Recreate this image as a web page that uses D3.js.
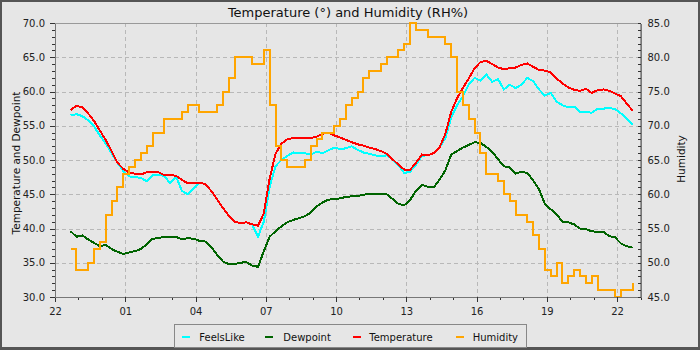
<!DOCTYPE html>
<html>
<head>
<meta charset="utf-8">
<script src="https://cdn.jsdelivr.net/npm/d3@7"></script>
<style>
  html, body { margin: 0; padding: 0; background: #e6e6e6; }
  svg { display: block; font-family: "DejaVu Sans", sans-serif; }
</style>
</head>
<body>
<svg id="chart" width="700" height="350"></svg>
<script>
// Readings every 15 minutes, starting 22:40.
const seriesNames  = ["FeelsLike", "Dewpoint", "Temperature", "Humidity"];
const seriesColors = ["#00ffff", "#006400", "#ff0000", "#ffa500"];

const feelsLike = [
  56.5, 56.7, 56.4, 55.8, 54.9, 53.6, 52.4, 51.0, 49.6, 48.4,
  47.6, 47.5, 47.4, 46.9, 47.8, 47.8, 47.7, 46.6, 47.6, 45.5,
  45.0, 45.9, 46.7, 46.5, 45.5, 44.3, 43.0, 41.9, 41.0, 40.8,
  40.9, 40.6, 38.8, 41.0, 46.1, 49.1, 50.0, 50.6, 51.1, 51.0,
  51.0, 50.8, 51.2, 51.0, 51.4, 51.8, 51.6, 51.7, 52.0, 51.5,
  51.1, 50.9, 50.7, 50.5, 50.7, 50.1, 49.2, 48.1, 48.3, 49.3,
  50.6, 50.7, 51.0, 51.8, 53.2, 56.2, 58.0, 59.3, 61.0, 62.0,
  61.6, 62.5, 61.4, 61.8, 60.3, 61.0, 60.5, 61.0, 62.0, 61.5,
  60.3, 59.4, 59.8, 58.5, 58.0, 57.7, 57.8, 57.0, 57.0, 56.9,
  57.5, 57.5, 57.6, 57.4, 56.8, 56.0, 55.1
];

const dewpoint = [
  39.6, 38.8, 39.0, 38.4, 37.9, 37.4, 37.6, 37.0, 36.6, 36.3,
  36.5, 36.7, 37.0, 37.7, 38.5, 38.6, 38.8, 38.8, 38.8, 38.4,
  38.6, 38.5, 38.2, 38.1, 37.3, 36.2, 35.2, 34.8, 34.8, 35.0,
  35.1, 34.6, 34.4, 36.7, 38.8, 39.6, 40.3, 40.9, 41.25, 41.5,
  41.8, 42.3, 43.2, 43.8, 44.2, 44.3, 44.4, 44.6, 44.7, 44.75,
  44.9, 45.1, 45.1, 45.1, 45.0, 44.3, 43.6, 43.4, 44.2, 45.5,
  46.4, 46.1, 46.0, 47.1, 48.5, 50.8, 51.3, 51.8, 52.2, 52.6,
  52.5, 51.9, 51.2, 50.1, 49.1, 48.9, 48.0, 48.3, 48.1, 47.0,
  45.7, 43.6, 42.8, 42.1, 41.0, 40.9, 40.6, 40.0, 39.9, 39.6,
  39.5, 39.5, 38.9, 38.7, 37.8, 37.4, 37.2
];

const temperature = [
  57.3, 57.9, 57.7, 56.8, 55.7, 54.3, 52.9, 51.3, 49.6, 48.7,
  48.2, 48.0, 47.9, 48.2, 48.3, 48.2, 47.8, 47.8, 47.7, 47.1,
  46.6, 46.7, 46.7, 46.5, 45.5, 44.3, 43.0, 41.9, 41.0, 40.8,
  40.9, 40.6, 40.4, 42.2, 47.3, 50.9, 52.4, 53.0, 53.2, 53.2,
  53.2, 53.2, 53.4, 53.8, 54.0, 53.6, 53.3, 52.95, 52.6, 52.3,
  52.1, 51.8, 51.6, 51.3, 50.9, 50.1, 49.3, 48.6, 48.6, 49.6,
  50.8, 50.7, 51.0, 51.8, 53.8, 57.0, 59.0, 60.5, 61.9, 63.4,
  64.3, 64.5, 64.0, 63.5, 63.25, 63.4, 63.5, 63.9, 64.1, 63.6,
  63.15, 63.05, 62.8, 61.9, 61.2, 60.6, 60.25, 60.1, 60.4, 59.8,
  60.2, 60.3, 60.1, 59.7, 59.3, 58.2, 57.2
];

const humidity = [
  52, 49, 49, 50, 52, 53, 57, 59, 61, 63,
  64, 65, 66, 67, 69, 69, 71, 71, 71, 72,
  73, 73, 72, 72, 72, 73, 75, 77, 80, 80,
  80, 79, 79, 81, 73, 67, 65, 64, 64, 64,
  65, 67, 68, 69, 69, 70, 71, 73, 74, 75,
  77, 78, 78, 79, 80, 80, 81, 82, 85, 84,
  84, 83, 83, 83, 82, 80, 75, 73, 71, 69,
  66, 63, 63, 62, 60, 59, 57, 57, 56, 54,
  52, 49, 48, 50, 47, 48, 49, 48, 47, 48,
  46, 46, 46, 45, 46, 46, 47
];

const leftTicks  = [30, 35, 40, 45, 50, 55, 60, 65, 70];
const rightTicks = [45, 50, 55, 60, 65, 70, 75, 80, 85];
const hourLabelStep = 3;

const axisStart = new Date(2024, 0, 1, 22, 0);
const axisEnd   = new Date(2024, 0, 2, 23, 0);
const firstReading = new Date(2024, 0, 1, 22, 40);
const readingMinutes = 15;

const times = temperature.map((_, i) => d3.timeMinute.offset(firstReading, i * readingMinutes));

const svg = d3.select("#chart");
const W = 700, H = 350;
const plot = { left: 55, right: 640.5, top: 23, bottom: 297 };

// frame and background
svg.append("rect").attr("width", W).attr("height", H).attr("fill", "#555");
svg.append("rect").attr("x", 2).attr("y", 2).attr("width", W - 4).attr("height", H - 5).attr("fill", "#e6e6e6");

const x = d3.scaleTime().domain([axisStart, axisEnd]).range([plot.left, plot.right]);
const yL = d3.scaleLinear().domain([30, 70]).range([plot.bottom, plot.top]);
const yR = d3.scaleLinear().domain([45, 85]).range([plot.bottom, plot.top]);

const allHours = d3.timeHour.range(axisStart, d3.timeMinute.offset(axisEnd, 1));
const majorHours = allHours.filter((d, i) => i % hourLabelStep === 0);

// gridlines
const grid = svg.append("g").attr("stroke", "#b8b8b8").attr("stroke-width", 1)
  .attr("stroke-dasharray", "4,3").attr("shape-rendering", "crispEdges");
grid.selectAll("line.v").data(majorHours.filter(d => x(d) > plot.left + 1 && x(d) < plot.right - 1)).join("line")
  .attr("x1", d => Math.round(x(d)) + 0.5).attr("x2", d => Math.round(x(d)) + 0.5)
  .attr("y1", plot.top).attr("y2", plot.bottom);
grid.selectAll("line.h").data(leftTicks.filter(v => v > 30 && v < 70)).join("line")
  .attr("y1", d => Math.round(yL(d)) + 0.5).attr("y2", d => Math.round(yL(d)) + 0.5)
  .attr("x1", plot.left).attr("x2", plot.right);

// plot border
svg.append("rect")
  .attr("x", plot.left).attr("y", plot.top + 0.5)
  .attr("width", plot.right - plot.left).attr("height", plot.bottom - plot.top)
  .attr("fill", "none").attr("stroke", "#999").attr("shape-rendering", "crispEdges");

// series: the three temperature-scale lines are linear, humidity steps between whole percents
const seriesData = [feelsLike, dewpoint, temperature, humidity];
const scales = [yL, yL, yL, yR];
const curves = [d3.curveLinear, d3.curveLinear, d3.curveLinear, d3.curveStepAfter];
seriesData.forEach((vals, s) => {
  const line = d3.line()
    .curve(curves[s])
    .x((d, i) => x(times[i]))
    .y(d => scales[s](d));
  svg.append("path")
    .datum(vals)
    .attr("d", line)
    .attr("fill", "none")
    .attr("stroke", seriesColors[s])
    .attr("stroke-width", 2)
    .attr("stroke-linejoin", "miter")
    .attr("shape-rendering", "crispEdges");
});

function styleAxis(g) {
  g.attr("shape-rendering", "crispEdges");
  g.select(".domain").attr("stroke", "#777");
  g.selectAll(".tick line").attr("stroke", "#333");
  g.selectAll(".tick text").attr("fill", "#222").attr("font-size", 10).attr("font-family", "DejaVu Sans, sans-serif");
}

// bottom axis
svg.append("g").attr("transform", `translate(0,${plot.bottom})`)
  .call(d3.axisBottom(x).tickValues(allHours).tickFormat("").tickSize(3).tickSizeOuter(0))
  .call(styleAxis);
svg.append("g").attr("transform", `translate(0,${plot.bottom})`)
  .call(d3.axisBottom(x).tickValues(majorHours).tickFormat(d3.timeFormat("%H")).tickSize(5).tickPadding(6).tickSizeOuter(0))
  .call(styleAxis);

// left axis
svg.append("g").attr("transform", `translate(${plot.left},0)`)
  .call(d3.axisLeft(yL).tickValues(d3.range(30, 71, 1)).tickFormat("").tickSize(3).tickSizeOuter(0))
  .call(styleAxis);
svg.append("g").attr("transform", `translate(${plot.left},0)`)
  .call(d3.axisLeft(yL).tickValues(leftTicks).tickFormat(d3.format(".1f")).tickSize(5).tickPadding(5).tickSizeOuter(0))
  .call(styleAxis);

// right axis
svg.append("g").attr("transform", `translate(${plot.right},0)`)
  .call(d3.axisRight(yR).tickValues(d3.range(45, 86, 1)).tickFormat("").tickSizeInner(-3).tickSizeOuter(0))
  .call(styleAxis);
svg.append("g").attr("transform", `translate(${plot.right},0)`)
  .call(d3.axisRight(yR).tickValues(rightTicks).tickFormat(d3.format(".1f")).tickSizeInner(-3).tickPadding(7).tickSizeOuter(0))
  .call(styleAxis);

// titles
svg.append("text").attr("x", 348).attr("y", 17).attr("text-anchor", "middle")
  .attr("font-size", 13).attr("fill", "#111").text("Temperature (°) and Humidity (RH%)");
svg.append("text").attr("transform", "translate(19.5,163) rotate(-90)").attr("text-anchor", "middle")
  .attr("font-size", 10.5).attr("fill", "#111").text("Temperature and Dewpoint");
svg.append("text").attr("transform", "translate(684.5,159) rotate(-90)").attr("text-anchor", "middle")
  .attr("font-size", 10.5).attr("fill", "#111").text("Humidity");

// legend
const legend = svg.append("g");
legend.append("rect").attr("x", 174.5).attr("y", 324.5).attr("width", 352).attr("height", 23)
  .attr("fill", "#e6e6e6").attr("stroke", "#888").attr("shape-rendering", "crispEdges");
const legendLineX = [185.5, 269, 357, 459.7];
const legendTextX = [199.3, 283.3, 369.3, 472.7];
seriesNames.forEach((name, i) => {
  legend.append("line")
    .attr("x1", legendLineX[i] - 4).attr("x2", legendLineX[i] + 4)
    .attr("y1", 336.5).attr("y2", 336.5)
    .attr("stroke", seriesColors[i]).attr("stroke-width", 2)
    .attr("shape-rendering", "crispEdges");
  legend.append("text")
    .attr("x", legendTextX[i]).attr("y", 340.5)
    .attr("font-size", 10).attr("fill", "#111").text(name);
});
</script>
</body>
</html>
